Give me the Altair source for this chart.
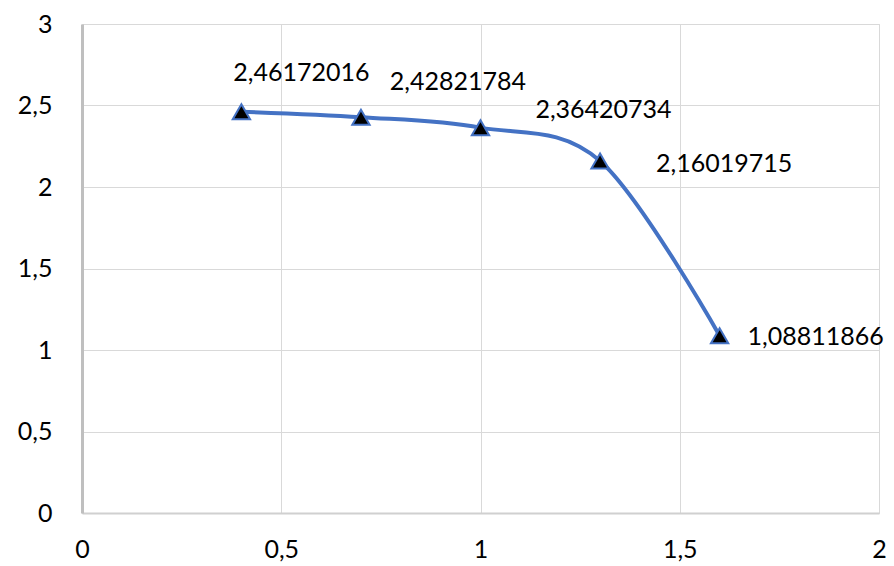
import altair as alt
import pandas as pd

x_vals = [0.4, 0.7, 1.0, 1.3, 1.6]
y_vals = [2.46172016, 2.42821784, 2.36420734, 2.16019715, 1.08811866]
labels = [f"{v:.8f}".replace(".", ",") for v in y_vals]

df = pd.DataFrame({"x": x_vals, "y": y_vals, "label": labels, "i": list(range(len(x_vals)))})

FONT = "Lato"
comma = "replace(format(datum.value, ''), '.', ',')"

base = alt.Chart(df).encode(
    x=alt.X("x:Q", scale=alt.Scale(domain=[0, 2], nice=False, zero=True),
            axis=alt.Axis(values=[0, 0.5, 1, 1.5, 2], title=None, labelExpr=comma,
                          labelFont=FONT, labelFontSize=25, labelColor="#000000",
                          labelPadding=24, labelFlush=False, ticks=False,
                          domainColor="#d0d0d0", domainWidth=2,
                          gridColor="#d9d9d9", gridWidth=1)),
    y=alt.Y("y:Q", scale=alt.Scale(domain=[0, 3], nice=False),
            axis=alt.Axis(values=[0, 0.5, 1, 1.5, 2, 2.5, 3], title=None, labelExpr=comma,
                          labelFont=FONT, labelFontSize=25, labelColor="#000000",
                          labelPadding=30, labelFlush=False, ticks=False,
                          domainColor="#bfbfbf", domainWidth=3,
                          gridColor="#d9d9d9", gridWidth=1)),
)

line = base.mark_line(color="#4472C4", strokeWidth=4, interpolate="cardinal")
pts = base.mark_point(shape="triangle-up", filled=True, fill="#000000", stroke="#4472C4",
                      strokeWidth=2, size=300, opacity=1)

offsets = [(60, -39), (97, -35), (123, -18), (124, 3), (96, 1)]
texts = []
for i, (dx, dy) in enumerate(offsets):
    texts.append(
        base.transform_filter(alt.datum.i == i).mark_text(
            font=FONT, fontSize=25, color="#000000", dx=dx, dy=dy, align="center", baseline="middle"
        ).encode(text="label:N")
    )

chart = alt.layer(line, pts, *texts).properties(
    width=797, height=489,
    autosize=alt.AutoSizeParams(type="none"),
    padding={"left": 74, "top": 16, "right": 7, "bottom": 51},
).configure_view(stroke=None).configure(background="white")

chart.save("out.html", embed_options={"renderer": "svg", "actions": False})
